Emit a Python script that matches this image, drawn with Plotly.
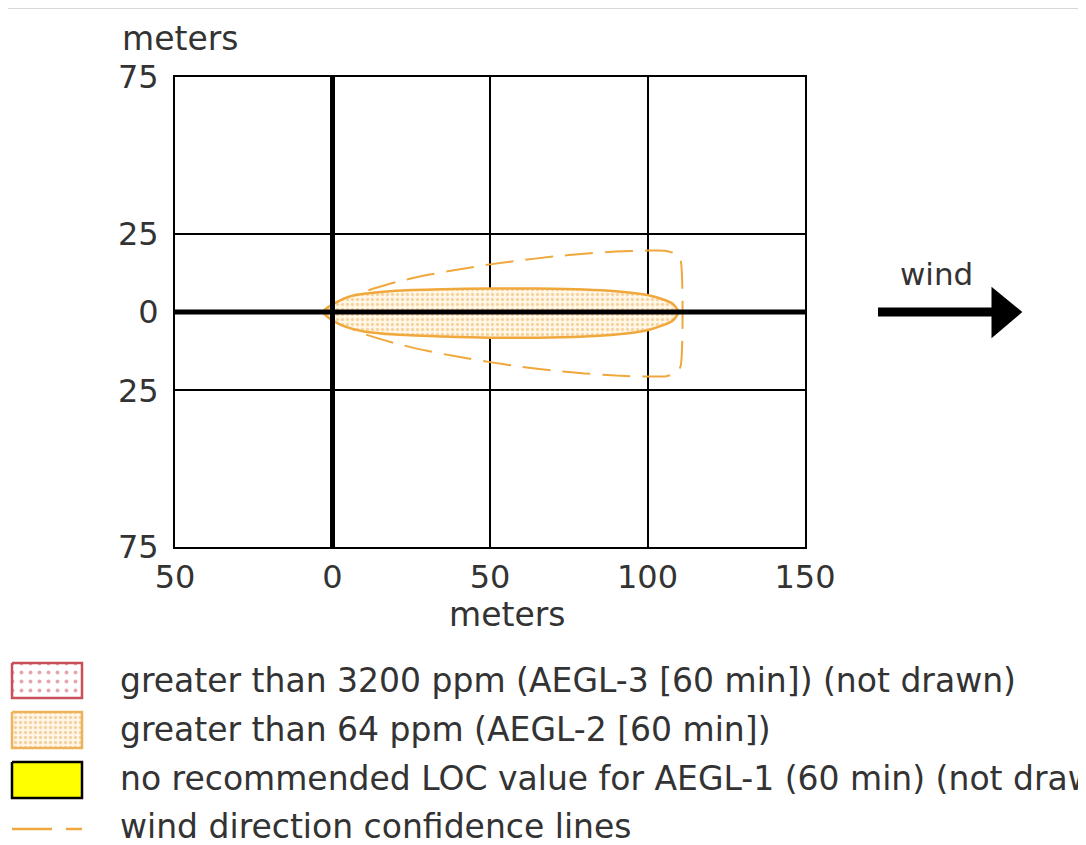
import plotly.graph_objects as go

# The page body adds an 8px margin, so the figure is 8px smaller and
# every reference pixel position is shifted by -8.
OFF = 8
W, H = 1086 - OFF, 845 - OFF

# ---- data ----
plume_x = [-3, -1, 2, 5, 10, 20, 35, 50, 65, 80, 90, 100, 105, 108, 110]
plume_upper = [0, 1.8, 3.5, 4.8, 5.8, 6.8, 7.3, 7.5, 7.5, 7.2, 6.6, 5.4, 4.0, 2.6, 0]
plume_lower = [0, -2.0, -3.8, -5.0, -6.2, -7.2, -7.8, -8.2, -8.2, -7.8, -7.2, -5.8, -4.2, -2.8, 0]

conf_x = [-3, 0, 5, 10, 20, 30, 40, 50, 60, 70, 80, 90, 100, 106, 109, 110.5]
conf_upper = [0, 1.5, 4.5, 6.5, 9.5, 11.8, 13.6, 15.2, 16.5, 17.7, 18.6, 19.3, 19.6, 19.5, 18.5, 16.5]
conf_lower = [0, -1.6, -4.8, -7.0, -10.0, -12.4, -14.3, -16.0, -17.5, -18.7, -19.6, -20.3, -20.6, -20.5, -19.5, -17.3]

x_ticks = [-50, 0, 50, 100, 150]
x_ticktext = ["50", "0", "50", "100", "150"]
y_ticks = [-75, -25, 0, 25, 75]
y_ticktext = ["75", "25", "0", "25", "75"]

legend_labels = [
    "greater than 3200 ppm (AEGL-3 [60 min]) (not drawn)",
    "greater than 64 ppm (AEGL-2 [60 min])",
    "no recommended LOC value for AEGL-1 (60 min) (not drawn)",
    "wind direction confidence lines",
]

FONT = "DejaVu Sans"
FS = 33
TICK_FS = 32
TXT = "#333333"
ORANGE = "#F0A83C"

# plot area in reference pixels
PL, PR, PT, PB = 175, 805, 77, 547


def px(x):
    return (x - OFF) / W


def py(y):
    return 1 - (y - OFF) / H


fig = go.Figure()

# confidence lines (one closed dashed outline)
cx = conf_x + conf_x[::-1]
cy = conf_upper + conf_lower[::-1]
fig.add_trace(go.Scatter(
    x=cx, y=cy, mode="lines",
    line=dict(color=ORANGE, width=2, dash="28px,12px", shape="spline", smoothing=0.6),
    hoverinfo="skip", showlegend=False,
))

# AEGL-2 plume
fx = plume_x + plume_x[::-1]
fy = plume_upper + plume_lower[::-1]
fig.add_trace(go.Scatter(
    x=fx, y=fy, mode="lines", fill="toself",
    fillcolor="#FFF4E0",
    fillpattern=dict(shape=".", fgcolor="#EDB25A", bgcolor="#FFF7E8", size=5, solidity=0.35),
    line=dict(color=ORANGE, width=2.5, shape="spline", smoothing=0.8),
    hoverinfo="skip", showlegend=False,
))

# ---- legend drawn on an auxiliary axis in reference-pixel coordinates ----
LG_TOP, LG_BOT = 650, 845
box_x = [12, 82, 82, 12, 12]
boxes = [(663, 698), (712, 748), (762, 798)]
box_styles = [
    dict(line="#C8505A", fill="#FFFFFF", pat=dict(shape=".", fgcolor="#C8505A", bgcolor="#FFFFFF", size=9, solidity=0.15)),
    dict(line="#EDB25A", fill="#FFF4E0", pat=dict(shape=".", fgcolor="#E8B060", bgcolor="#FFF6E8", size=5, solidity=0.35)),
    dict(line="#000000", fill="#FFFF00", pat=None),
]
for (t, b), st in zip(boxes, box_styles):
    kw = dict(
        x=box_x, y=[t, t, b, b, t], mode="lines", fill="toself",
        fillcolor=st["fill"],
        line=dict(color=st["line"], width=2.5),
        xaxis="x2", yaxis="y2", hoverinfo="skip", showlegend=False,
    )
    if st["pat"]:
        kw["fillpattern"] = st["pat"]
    fig.add_trace(go.Scatter(**kw))

fig.add_trace(go.Scatter(
    x=[12, 82], y=[829, 829], mode="lines",
    line=dict(color=ORANGE, width=2.5, dash="40px,14px"),
    xaxis="x2", yaxis="y2", hoverinfo="skip", showlegend=False,
))

annotations = []
for lab, yc in zip(legend_labels, [680, 729, 778, 826]):
    annotations.append(dict(
        x=118, y=yc, xref="x2", yref="y2", text=lab, showarrow=False,
        xanchor="left", yanchor="middle", font=dict(family=FONT, size=FS, color=TXT),
    ))

# axis titles & wind label
annotations.append(dict(x=px(507), y=py(614), xref="paper", yref="paper", text="meters",
                        showarrow=False, xanchor="center", yanchor="middle",
                        font=dict(family=FONT, size=FS, color=TXT)))
annotations.append(dict(x=px(120), y=py(38), xref="paper", yref="paper", text="meters",
                        showarrow=False, xanchor="left", yanchor="middle",
                        font=dict(family=FONT, size=FS, color=TXT)))
annotations.append(dict(x=px(936), y=py(274), xref="paper", yref="paper", text="wind",
                        showarrow=False, xanchor="center", yanchor="middle",
                        font=dict(family=FONT, size=31, color=TXT)))

shapes = [
    # heavy zero axes drawn above the plume
    dict(type="line", xref="x", yref="y", x0=-50, x1=150, y0=0, y1=0,
         line=dict(color="black", width=5), layer="above"),
    dict(type="line", xref="x", yref="y", x0=0, x1=0, y0=-75, y1=75,
         line=dict(color="black", width=5), layer="above"),
    # wind arrow
    dict(type="line", xref="paper", yref="paper", x0=px(878), x1=px(1000), y0=py(312), y1=py(312),
         line=dict(color="black", width=9)),
    dict(type="path", xref="paper", yref="paper",
         path=f"M {px(993)},{py(290)} L {px(1020)},{py(312)} L {px(993)},{py(335)} Z",
         fillcolor="black", line=dict(color="black", width=3)),
    # faint frame of the original screenshot
    dict(type="line", xref="paper", yref="paper", x0=px(8), x1=1, y0=1, y1=1,
         line=dict(color="#D4D8DC", width=2)),
    dict(type="line", xref="paper", yref="paper", x0=px(1079), x1=px(1079), y0=1, y1=0,
         line=dict(color="#EEF0F2", width=2)),
]

fig.update_layout(
    width=W, height=H,
    margin=dict(l=0, r=0, t=0, b=0),
    paper_bgcolor="white", plot_bgcolor="white",
    showlegend=False,
    font=dict(family=FONT, size=FS, color=TXT),
    xaxis=dict(
        domain=[px(PL), px(PR)], range=[-50, 150],
        tickmode="array", tickvals=x_ticks, ticktext=x_ticktext,
        showgrid=True, gridcolor="black", gridwidth=1.5,
        zeroline=False, showline=True, linecolor="black", linewidth=2, mirror=True,
        ticks="", ticklabelstandoff=1, automargin=False,
        tickfont=dict(family=FONT, size=TICK_FS, color=TXT),
    ),
    yaxis=dict(
        domain=[py(PB), py(PT)], range=[-75, 75],
        tickmode="array", tickvals=y_ticks, ticktext=y_ticktext,
        showgrid=True, gridcolor="black", gridwidth=1.5,
        zeroline=False, showline=True, linecolor="black", linewidth=2, mirror=True,
        ticks="", ticklabelstandoff=8, automargin=False,
        tickfont=dict(family=FONT, size=TICK_FS, color=TXT),
    ),
    xaxis2=dict(domain=[0, 1], range=[OFF, OFF + W], visible=False, anchor="y2", fixedrange=True),
    yaxis2=dict(domain=[0, py(LG_TOP)], range=[LG_BOT, LG_TOP], visible=False, anchor="x2", fixedrange=True),
    annotations=annotations,
    shapes=shapes,
)

fig.write_html("out.html")
